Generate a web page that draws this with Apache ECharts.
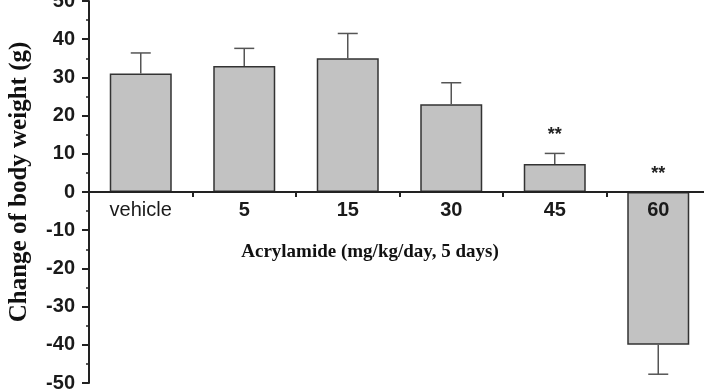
<!DOCTYPE html>
<html>
<head>
<meta charset="utf-8">
<script src="https://cdn.jsdelivr.net/npm/echarts@6/dist/echarts.min.js"></script>
<style>
  html, body { margin: 0; padding: 0; background: #fff; }
  #chart { width: 704px; height: 390px; }
</style>
</head>
<body>
<div id="chart"></div>
<script>
// 剂量组（横轴）
var categories = ["vehicle", "5", "15", "30", "45", "60"];
// 体重变化均值 (g)
var means = [31, 33, 35, 23, 7.3, -40];
// 误差线 (单侧)
var errors = [5.4, 4.6, 6.5, 5.6, 2.8, 7.7];
// 显著性标记
var sigMarks = ["", "", "", "", "**", "**"];
// 纵轴刻度
var yMin = -50, yMax = 50, yStep = 10;

var chart = echarts.init(document.getElementById("chart"));

var sansBold = { fontFamily: "Liberation Sans", fontWeight: "bold", fontSize: 20, color: "#1a1a1a" };

var option = {
  animation: false,
  grid: {
    left: 89,
    right: -6,
    top: 1,
    bottom: 7,
    containLabel: false,
    outerBoundsMode: "none"
  },
  xAxis: {
    type: "category",
    data: categories,
    z: 5,
    // 横轴放在 0 的位置（grid 高 382，0 在中间）
    offset: -191,
    axisLine: { onZero: false, lineStyle: { color: "#222", width: 2 } },
    axisTick: { show: true, length: 5, lineStyle: { color: "#222", width: 2 } },
    axisLabel: {
      margin: 8,
      formatter: function (val) {
        return val === "vehicle" ? "{n|" + val + "}" : "{b|" + val + "}";
      },
      rich: {
        n: { fontFamily: "Liberation Sans", fontSize: 20, color: "#1a1a1a" },
        b: sansBold
      }
    },
    name: "Acrylamide (mg/kg/day, 5 days)",
    nameLocation: "middle",
    nameGap: 51,
    nameTextStyle: {
      fontFamily: "Liberation Serif",
      fontWeight: "bold",
      fontSize: 19,
      color: "#111",
      padding: [0, 59, 0, 0]
    }
  },
  yAxis: {
    type: "value",
    min: yMin,
    max: yMax,
    interval: yStep,
    axisLine: { show: true, lineStyle: { color: "#222", width: 2 } },
    axisTick: { show: true, length: 7, lineStyle: { color: "#222", width: 2 } },
    minorTick: { show: true, splitNumber: 2, length: 3, lineStyle: { color: "#222", width: 1.5 } },
    splitLine: { show: false },
    axisLabel: Object.assign({ margin: 14 }, sansBold),
    name: "Change of body weight (g)",
    nameLocation: "middle",
    nameRotate: 90,
    nameGap: 57,
    nameTextStyle: {
      fontFamily: "Liberation Serif",
      fontWeight: "bold",
      fontSize: 25,
      color: "#111",
      padding: [0, 0, 0, 20]
    }
  },
  series: [
    {
      type: "bar",
      data: means,
      barWidth: 62,
      itemStyle: { color: "#c2c2c2", borderColor: "#333", borderWidth: 1.5 }
    },
    {
      type: "custom",
      z: 4,
      data: means.map(function (m, i) { return [i, m, errors[i]]; }),
      renderItem: function (params, api) {
        var i = api.value(0), m = api.value(1), e = api.value(2);
        var end = m >= 0 ? m + e : m - e;
        var p0 = api.coord([i, m]);
        var p1 = api.coord([i, end]);
        var half = 10;
        var children = [
          { type: "line", shape: { x1: p0[0], y1: p0[1], x2: p1[0], y2: p1[1] }, style: { stroke: "#555", lineWidth: 1.5 } },
          { type: "line", shape: { x1: p1[0] - half, y1: p1[1], x2: p1[0] + half, y2: p1[1] }, style: { stroke: "#555", lineWidth: 1.5 } }
        ];
        var mark = sigMarks[params.dataIndex];
        if (mark) {
          var top = api.coord([i, Math.max(0, end)]);
          children.push({
            type: "text",
            style: {
              text: mark,
              x: top[0],
              y: top[1] - 18,
              align: "center",
              verticalAlign: "middle",
              font: "bold 18px Liberation Sans",
              fill: "#222"
            }
          });
        }
        return { type: "group", children: children };
      }
    }
  ]
};

chart.setOption(option);
</script>
</body>
</html>
